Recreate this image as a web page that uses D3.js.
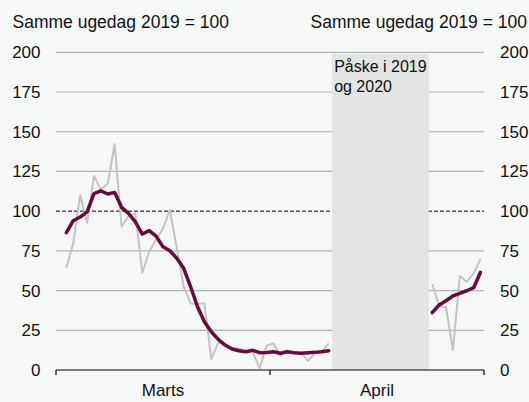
<!DOCTYPE html>
<html>
<head>
<meta charset="utf-8">
<script src="https://cdn.jsdelivr.net/npm/d3@7"></script>
<style>
  html, body { margin: 0; padding: 0; background: #f6f8f8; }
  svg text { font-family: "Liberation Sans", Arial, sans-serif; fill: #111; }
</style>
</head>
<body>
<svg id="chart" width="529" height="402"></svg>
<script>
// daily index (grey) and smoothed index (purple), same weekday 2019 = 100
const startA = "2020-03-02";
const dailyA = [64.4, 79.7, 110.1, 92.7, 122.1, 113.7, 117.5, 142.2, 90.2, 96.9,
  98.6, 61.2, 74.4, 81.8, 89.2, 100.7, 76.8, 52.4, 41.9, 41.5,
  42.0, 6.9, 17.3, 16.0, 13.7, 13.5, 12.0, 11.3, 1.1, 15.3,
  16.7, 9.1, 12.0, 11.0, 10.7, 5.7, 10.5, 11.6, 16.7];
const smoothA = [86.5, 94.0, 96.3, 99.6, 111.0, 112.7, 110.8, 111.8, 102.4, 98.6,
  93.3, 85.6, 87.7, 84.3, 77.6, 75.1, 70.3, 64.0, 52.4, 39.8,
  30.4, 24.1, 19.3, 15.7, 13.2, 12.1, 11.5, 12.4, 10.9, 11.0,
  11.5, 10.5, 11.5, 10.9, 10.5, 10.9, 11.1, 11.5, 12.1];

const startB = "2020-04-24";
const dailyB = [54.1, 40.3, 39.5, 12.6, 59.2, 55.6, 60.9, 69.9];
const smoothB = [36.1, 40.9, 43.6, 46.6, 48.3, 49.9, 51.8, 61.5];

const easter = ["2020-04-10", "2020-04-24"];
const yTicks = [0, 25, 50, 75, 100, 125, 150, 175, 200];
const months = [
  { name: "Marts", from: "2020-03-01", to: "2020-04-01" },
  { name: "April", from: "2020-04-01", to: "2020-05-02" }
];
const unitLabel = "Samme ugedag 2019 = 100";

const parse = d3.utcParse("%Y-%m-%d");
const svg = d3.select("#chart");

const x = d3.scaleUtc()
  .domain([parse("2020-03-01"), parse("2020-05-02")])
  .range([56, 484]);
const y = d3.scaleLinear().domain([0, 200]).range([370, 52.3]);

function series(start, values) {
  const s = parse(start);
  return values.map((v, i) => ({ date: d3.utcHour.offset(d3.utcDay.offset(s, i), 12), value: v }));
}

// gridlines
svg.append("g")
  .selectAll("line")
  .data(yTicks.filter(d => d !== 0 && d !== 100))
  .join("line")
  .attr("x1", x.range()[0]).attr("x2", x.range()[1])
  .attr("y1", d => y(d)).attr("y2", d => y(d))
  .attr("stroke", "#b3b3b3")
  .attr("stroke-width", 1.2);

svg.append("line")
  .attr("x1", x.range()[0]).attr("x2", x.range()[1])
  .attr("y1", y(100)).attr("y2", y(100))
  .attr("stroke", "#000")
  .attr("stroke-width", 1)
  .attr("stroke-dasharray", "4,2");

// easter shading
svg.append("rect")
  .attr("x", x(parse(easter[0])))
  .attr("width", x(parse(easter[1])) - x(parse(easter[0])))
  .attr("y", y(199))
  .attr("height", y(0) - y(199))
  .attr("fill", "#e3e4e4");

svg.append("text")
  .attr("x", x(parse(easter[0])) + 2)
  .attr("y", 72)
  .attr("font-size", 16)
  .selectAll("tspan")
  .data(["Påske i 2019", "og 2020"])
  .join("tspan")
  .attr("x", x(parse(easter[0])) + 2)
  .attr("dy", (d, i) => i ? 19.5 : 0)
  .text(d => d);

// lines
const line = d3.line().x(d => x(d.date)).y(d => y(d.value));

[series(startA, dailyA), series(startB, dailyB)].forEach(s => {
  svg.append("path").datum(s)
    .attr("d", line)
    .attr("fill", "none")
    .attr("stroke", "#c3c3c3")
    .attr("stroke-width", 2)
    .attr("stroke-linejoin", "round");
});

[series(startA, smoothA), series(startB, smoothB)].forEach(s => {
  svg.append("path").datum(s)
    .attr("d", line)
    .attr("fill", "none")
    .attr("stroke", "#6a0a3a")
    .attr("stroke-width", 3.5)
    .attr("stroke-linejoin", "round")
    .attr("stroke-linecap", "round");
});

// x axis
const xAxis = svg.append("g").attr("transform", `translate(0,${y(0)})`);
xAxis.append("line")
  .attr("x1", x.range()[0]).attr("x2", x.range()[1])
  .attr("stroke", "#000").attr("stroke-width", 1.2);
xAxis.selectAll(".tick")
  .data([parse("2020-03-01"), parse("2020-04-01"), parse("2020-05-02")])
  .join("line")
  .attr("x1", d => x(d)).attr("x2", d => x(d))
  .attr("y1", 0).attr("y2", 5)
  .attr("stroke", "#000").attr("stroke-width", 1.2);
xAxis.selectAll("text")
  .data(months)
  .join("text")
  .attr("x", d => (x(parse(d.from)) + x(parse(d.to))) / 2)
  .attr("y", 26)
  .attr("text-anchor", "middle")
  .attr("font-size", 17)
  .text(d => d.name);

// y labels both sides
svg.append("g").selectAll("text")
  .data(yTicks).join("text")
  .attr("x", 40.5).attr("y", d => y(d))
  .attr("dy", "0.35em")
  .attr("text-anchor", "end")
  .attr("font-size", 17)
  .text(d => d);

svg.append("g").selectAll("text")
  .data(yTicks).join("text")
  .attr("x", 500).attr("y", d => y(d))
  .attr("dy", "0.35em")
  .attr("font-size", 17)
  .text(d => d);

svg.append("text").attr("x", 12.5).attr("y", 27.5)
  .attr("font-size", 17.5).text(unitLabel);
svg.append("text").attr("x", 527).attr("y", 27.5)
  .attr("text-anchor", "end")
  .attr("font-size", 17.5).text(unitLabel);
</script>
</body>
</html>
